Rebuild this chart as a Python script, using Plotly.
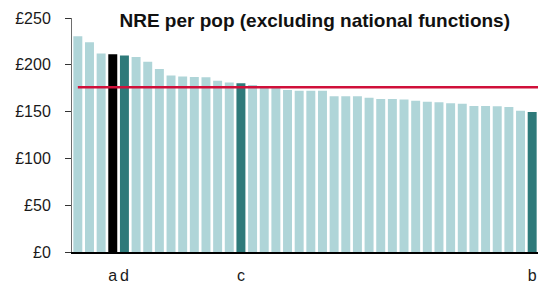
import plotly.graph_objects as go

values = [230.6, 224.2, 212.0, 211.4, 210.0, 208.2, 203.2, 195.4, 188.7, 187.6,
          186.9, 186.6, 183.0, 181.2, 180.4, 178.5, 176.5, 176.0, 173.0, 172.3,
          172.3, 172.3, 166.3, 166.3, 166.3, 164.8, 163.4, 163.4, 163.0, 161.6,
          160.6, 159.9, 158.8, 158.5, 156.0, 156.0, 155.6, 154.9, 151.0, 149.6]
labels = [""] * 40
labels[3] = "a"
labels[4] = "d"
labels[14] = "c"
labels[39] = "b"
highlight_black = [3]
highlight_teal = [4, 14, 39]
average = 176.0
y_ticks = [0, 50, 100, 150, 200, 250]
y_ticktext = ["£0", "£50", "£100", "£150", "£200", "£250"]

LIGHT = "#AFD5D8"
TEAL = "#2E7A7A"
RED = "#D0103A"

colors = []
for i in range(len(values)):
    if i in highlight_black:
        colors.append("#000000")
    elif i in highlight_teal:
        colors.append(TEAL)
    else:
        colors.append(LIGHT)

xs = list(range(len(values)))

fig = go.Figure()
fig.add_trace(go.Bar(x=xs, y=values, marker=dict(color=colors, line=dict(width=0)),
                     showlegend=False, hoverinfo="y"))
fig.add_trace(go.Scatter(x=[0, len(values) - 0.5], y=[average, average], mode="lines",
                         line=dict(color=RED, width=2.5), showlegend=False, hoverinfo="skip"))

fig.update_layout(
    width=538, height=285,
    margin=dict(l=72, r=0, t=18, b=33, autoexpand=False),
    paper_bgcolor="white", plot_bgcolor="white",
    bargap=0.23,
    font=dict(family="Liberation Sans, Arial, sans-serif", color="#1a1a1a", size=16),
    title=dict(text="<b>NRE per pop (excluding national functions)</b>",
               x=0.585, xref="container", xanchor="center",
               y=0.928, yref="container", yanchor="middle",
               font=dict(size=19, color="#111111")),
    xaxis=dict(range=[-0.5, len(values) - 0.5], tickmode="array", tickvals=xs, ticktext=labels,
               showgrid=False, zeroline=False, showline=True, linecolor="#000000", linewidth=1.5,
               ticks="", tickangle=0, tickfont=dict(size=16), ticklabelstandoff=8, automargin=False),
    yaxis=dict(range=[0, 250], tickmode="array", tickvals=y_ticks, ticktext=y_ticktext,
               showgrid=False, zeroline=False, showline=True, linecolor="#6e6e6e", linewidth=1,
               ticks="outside", ticklen=6, tickcolor="#333333", tickwidth=1,
               ticklabelstandoff=11, tickfont=dict(size=16), automargin=False),
)

fig.write_html("out.html", config={"displayModeBar": False},
               post_script="document.body.style.margin='0px';document.body.style.overflow='hidden';")
